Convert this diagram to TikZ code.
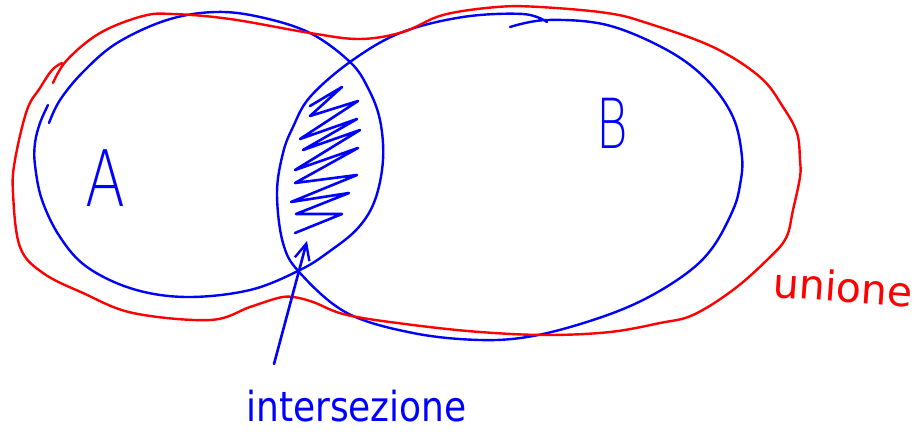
\documentclass[tikz,border=0pt]{standalone}
\usepackage{fontspec}
\newfontfamily\hand{DejaVu Sans ExtraLight}
\newfontfamily\handreg{DejaVu Sans}
\usetikzlibrary{arrows.meta}
\definecolor{pblue}{RGB}{0,0,255}
\definecolor{pred}{RGB}{255,0,0}
\tikzset{
  setline/.style={draw=pblue, line width=2.4pt, line cap=round, line join=round},
  unionline/.style={draw=pred, line width=2.4pt, line cap=round, line join=round},
  hatchline/.style={draw=pblue, line width=2.6pt, line cap=round, line join=round},
  bluetext/.style={text=pblue, inner sep=0pt, font=\hand},
  redtext/.style={text=pred, inner sep=0pt, font=\hand},
}
\begin{document}
\begin{tikzpicture}[x=1pt,y=-1pt]
\useasboundingbox (0,0) rectangle (914,434);

% set A
\draw[setline] plot[smooth, tension=0.6] coordinates {
 (48,105) (40,123) (35,143) (35,165) (42,200) (60,237) (87,267) (133,289)
 (187,297) (250,290) (300,270) (330,251) (358,228) (375,200) (383,160)
 (380,120) (368,88) (350,62) (310,33) (260,17) (215,12) (167,20) (117,43)
 (83,72) (60,100) (49,123)};

% set B
\draw[setline] plot[smooth, tension=0.6] coordinates {
 (510,27) (547,20) (607,25) (667,50) (707,80) (733,117) (742,157) (740,185)
 (733,210) (713,247) (687,273) (643,300) (593,320) (533,336) (480,340)
 (413,333) (347,313) (300,273) (283,243) (277,193) (283,153) (293,127)
 (310,97) (350,62) (400,33) (463,17) (523,14) (547,22)};

% union outline
\draw[unionline] plot[smooth, tension=0.6] coordinates {
 (53,83) (67,60) (100,33) (143,16) (173,14) (230,19) (310,33) (360,39)
 (403,32) (443,15) (497,7) (540,7) (607,13) (647,23) (713,47) (760,77)
 (783,107) (797,133) (800,160) (800,177) (793,210) (786,238) (767,260)
 (733,290) (693,315) (660,323) (610,332) (547,335) (480,332) (413,325)
 (347,315) (313,302) (293,297) (278,298) (250,307) (210,320) (133,313)
 (83,293) (43,273) (20,247) (13,193) (15,160) (27,110) (40,88) (52,70) (62,63)};

% hatching of the intersection
\draw[hatchline] (310,106) -- (342,87) -- (310,116) -- (358,101) -- (300,139)
 -- (357,119) -- (303,150) -- (360,130) -- (295,170) -- (358,148) -- (295,183)
 -- (357,175) -- (291,202) -- (349,193) -- (296,214) -- (342,214) -- (295,233);

% labels
\node[bluetext, font=\hand\fontsize{78}{78}\selectfont, anchor=base] (lA) at (106,206) {\scalebox{0.75}[1]{A}};
\node[bluetext, font=\hand\fontsize{69}{69}\selectfont, anchor=base] (lB) at (612,148) {\scalebox{0.7}[1]{B}};
\node[bluetext, font=\handreg\fontsize{36}{36}\selectfont, anchor=base west] (lint) at (246,421) {\scalebox{1}[1.15]{intersezione}};
\node[redtext, font=\handreg\fontsize{41}{41}\selectfont, anchor=base west, rotate=-4] (luni) at (772,297) {unione};

% arrow to the intersection
\coordinate (tail) at (274,364);
\coordinate (tip) at (307,241);
\draw[hatchline, -{Straight Barb[length=16pt,width=15pt,line width=2.4pt]}] (tail) -- (tip);
\end{tikzpicture}
\end{document}
